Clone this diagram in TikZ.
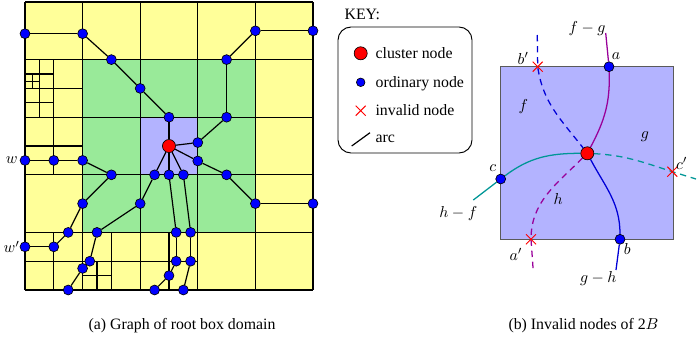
\documentclass[tikz,border=0pt]{standalone}
\usepackage{fontspec}
\setmainfont{Liberation Serif}
\usetikzlibrary{calc}
\usetikzlibrary{shapes.misc}
\usetikzlibrary{backgrounds}
\usepackage{xcolor}

\definecolor{boxyellow}{RGB}{255,255,153}
\definecolor{boxgreen}{RGB}{153,234,153}
\definecolor{boxblue}{RGB}{179,179,255}
\definecolor{boxedge}{RGB}{90,90,90}
\definecolor{fgcol}{RGB}{153,0,153}
\definecolor{ghcol}{RGB}{0,0,215}
\definecolor{hfcol}{RGB}{0,150,150}

\tikzset{
  ordinary/.style={circle, draw=black, fill=blue, line width=0.4pt, inner sep=0pt, minimum size=2.2mm},
  cluster/.style={circle, draw=black, fill=red, line width=0.4pt, inner sep=0pt, minimum size=2.9mm},
  invalid/.style={cross out, draw=red, line width=0.6pt, inner sep=0pt, minimum size=2mm},
  gridline/.style={line width=0.75pt},
  edgeline/.style={line width=0.75pt},
  keytext/.style={anchor=west, text height=1.6ex, text depth=0.25ex},
}

\begin{document}
\begin{tikzpicture}[x=0.0222cm, y=0.0222cm]
  \useasboundingbox (0,0) rectangle (698,344);

  % Root box domain
  \begin{scope}[shift={(25,54)}, x=1.2787cm, y=1.2787cm]
    % Boxes
    \fill[boxyellow] (0,0) rectangle (5,5);
    \fill[boxgreen] (1,1) rectangle (4,4);
    \fill[boxblue] (2,2) rectangle (3,3);

    % Grid
    \foreach \i in {0,...,5}
    {
      \draw[gridline] (\i,0) -- (\i,5);
      \draw[gridline] (0,\i) -- (5,\i);
    }

    % Refined boxes
    \draw[gridline] (0.5,3) -- (0.5,4) (0,3.5) -- (1,3.5);
    \draw[gridline] (0.25,3) -- (0.25,4) (0,3.25) -- (0.5,3.25) (0,3.75) -- (0.5,3.75);
    \draw[gridline] (0.125,3.5) -- (0.125,3.75) (0,3.625) -- (0.25,3.625);
    \draw[gridline] (0.5,2) -- (0.5,3) (0,2.5) -- (1,2.5);
    \draw[gridline] (0.5,0) -- (0.5,1) (1.5,0) -- (1.5,1) (2.5,0) -- (2.5,1) (0,0.5) -- (3,0.5);
    \draw[gridline] (1.25,0) -- (1.25,0.5) (1,0.25) -- (1.5,0.25);

    % Nodes
    \node[cluster] (c0) at (2.5,2.5) {};
    \foreach \n/\x/\y in {t1/0/4.45, t2/1/4.45, t3/1.5/4, t4/2/3.5, t5/2.5/3,
                          r1/5/4.5, r2/4/4.5, r3/3.5/4, r4/3.5/3, r5/3/2.56,
                          r6/3/2.24, r7/3.5/2, r8/4/1.5, r9/5/1.5,
                          d1/2.25/2, d2/2.5/2, d3/2.75/2,
                          d4/2.625/1, d5/2.625/0.5, d6/2.5/0.25, d7/2.25/0,
                          d8/2.875/1, d9/2.875/0.5, d10/2.75/0,
                          l1/2/1.5, l2/1.25/1, l3/1.125/0.5, l4/1/0.375, l5/0.75/0,
                          w/0/2.25, w1/0.5/2.25, w2/1/2.25, w3/1.5/2, w4/1/1.5,
                          w5/0.75/1, w6/0.5/0.75, wp/0/0.75}
    {
      \node[ordinary] (\n) at (\x,\y) {};
    }

    % Arcs
    \foreach \a/\b in {t1/t2, t2/t3, t3/t4, t4/t5, t5/c0,
                       r1/r2, r2/r3, r3/r4, r4/r5, r5/c0,
                       c0/r6, r6/r7, r7/r8, r8/r9,
                       c0/d1, c0/d2, c0/d3,
                       d2/d4, d4/d5, d5/d6, d6/d7,
                       d3/d8, d8/d9, d9/d10,
                       d1/l1, l1/l2, l2/l3, l3/l4, l4/l5,
                       w/w1, w1/w2, w2/w3, w3/w4, w4/w5, w5/w6, w6/wp}
    {
      \draw[edgeline] (\a) -- (\b);
    }

    \node (wlab) at ($(w)+(-0.23,0)$) {$w$};
    \node (wplab) at ($(wp)+(-0.23,0)$) {$w'$};
  \end{scope}

  % Key
  \node[anchor=west] (keytitle) at (339,330) {KEY:};
  \draw[rounded corners=0.29cm, line width=0.6pt] (338,191) rectangle (472,317);
  \node[cluster] (keyc) at (360.7,290.7) {};
  \node[keytext] (keyctext) at (370,290.7) {cluster node};
  \node[ordinary, minimum size=1.9mm] (keyo) at (360.7,261.7) {};
  \node[keytext] (keyotext) at (370,261.7) {ordinary node};
  \node[invalid] (keyx) at (360.7,233.3) {};
  \node[keytext] (keyxtext) at (370,233.3) {invalid node};
  \coordinate (keya1) at (351.7,198);
  \coordinate (keya2) at (370,211.3);
  \draw[edgeline] (keya1) -- (keya2);
  \node[keytext] (keyatext) at (370,206) {arc};

  % Box 2B
  \node[cluster] (K) at (587.3,190.7) {};
  \node[ordinary] (a) at (609,277.3) {};
  \node[ordinary] (b) at (620,104.7) {};
  \node[ordinary] (c) at (500.7,165) {};
  \node[invalid] (ap) at (531,104.7) {};
  \node[invalid] (bp) at (537.7,277.3) {};
  \node[invalid] (cp) at (672.3,172.3) {};

  \coordinate (fgend) at (605.7,311);
  \coordinate (bpend) at (537.3,309);
  \coordinate (cpend) at (696,165);
  \coordinate (hfend) at (473.3,144);
  \coordinate (ghend) at (616,74);
  \coordinate (apend) at (533.3,72.3);

  \begin{scope}[on background layer]
    \draw[fill=boxblue, draw=boxedge, line width=1pt] (500.7,104.7) rectangle (673.3,277.3);
    \draw[fgcol, line width=0.8pt] (fgend) -- (a);
    \draw[fgcol, line width=0.8pt] (a) to[out=-88, in=62] (K);
    \draw[fgcol, line width=0.8pt, dash pattern=on 4pt off 3pt] (K) to[out=-135, in=90] (ap.center) -- (apend);
    \draw[ghcol, line width=0.8pt, dash pattern=on 4pt off 3pt] (bpend) -- (bp.center) to[out=-82, in=128] (K);
    \draw[ghcol, line width=0.8pt] (K) to[out=-62, in=90] (b) -- (ghend);
    \draw[hfcol, line width=0.8pt] (hfend) -- (c) to[out=37, in=180] (K);
    \draw[hfcol, line width=0.8pt, dash pattern=on 4pt off 3pt] (K) to[out=-3, in=162] (cp.center) -- (cpend);
  \end{scope}

  % Labels of 2B
  \node (fglab) at (587,315.7) {$f-g$};
  \node (alab) at (616,288) {$a$};
  \node (bplab) at (523.3,285.7) {$b'$};
  \node (flab) at (523.3,237.3) {$f$};
  \node (glab) at (645,207.3) {$g$};
  \node (cplab) at (681.7,180.7) {$c'$};
  \node (clab) at (492.7,175.7) {$c$};
  \node (hflab) at (458.3,130.7) {$h-f$};
  \node (hlab) at (558.3,144.7) {$h$};
  \node (aplab) at (516,89.7) {$a'$};
  \node (blab) at (627.3,94.7) {$b$};
  \node (ghlab) at (598.3,65.7) {$g-h$};

  % Captions
  \node (capa) at (182,18) {(a) Graph of root box domain};
  \node (capb) at (583.5,18) {(b) Invalid nodes of 2$B$};
\end{tikzpicture}
\end{document}
